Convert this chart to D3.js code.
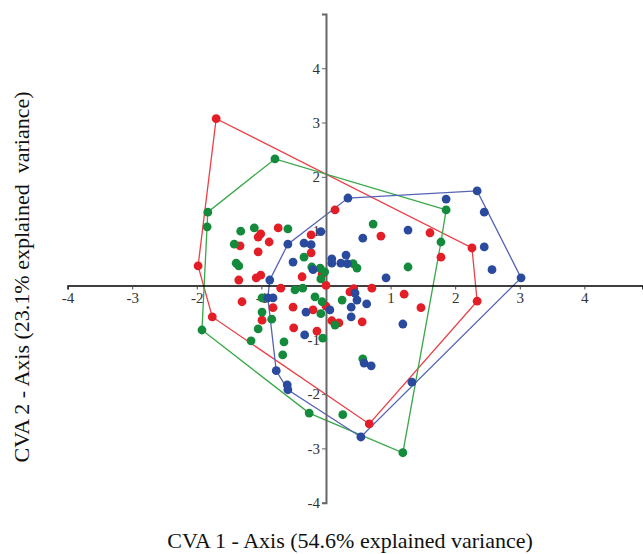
<!DOCTYPE html>
<html>
<head>
<meta charset="utf-8">
<script src="https://cdn.jsdelivr.net/npm/d3@7"></script>
<style>
  body { margin: 0; background: #fff; }
  svg { display: block; }
</style>
</head>
<body>
<svg width="643" height="554"></svg>
<script>
// CVA scores, [axis1, axis2]
var redPts = [
  [-1.70, 3.07], [-1.98, 0.36], [-1.76, -0.58], [0.67, -2.55], [2.34, -0.29], [2.26, 0.69],
  [0.14, 1.39], [-0.74, 1.06], [-1.05, 0.89], [-1.01, 0.95], [-0.23, 0.93], [-1.33, 0.73],
  [-0.88, 0.80], [-1.05, 0.62], [-0.23, 0.60], [-1.35, 0.10], [-1.08, 0.14], [-1.01, 0.19],
  [-0.37, 0.16], [-0.06, 0.21], [-0.70, -0.05], [0.00, 0.00], [-1.30, -0.30], [-0.82, -0.41],
  [-0.51, -0.40], [0.00, -0.38], [-0.20, -0.45], [-0.99, -0.64], [-0.50, -0.78], [-0.14, -0.84],
  [0.09, -0.65], [0.20, -0.69], [0.37, -0.12], [0.43, -0.06], [0.71, -0.05], [0.56, -0.67],
  [0.85, 0.91], [1.61, 0.97], [1.78, 0.52], [1.21, -0.16], [1.47, -0.41]
];
var greenPts = [
  [-0.79, 2.33], [1.86, 1.39], [1.78, 0.80], [1.19, -3.08], [-0.26, -2.35], [0.26, -2.38],
  [-1.92, -0.82], [-1.83, 1.35], [-1.84, 1.08], [-1.32, 1.00], [-1.11, 1.06], [-0.59, 1.04],
  [-1.42, 0.76], [-1.39, 0.41], [-1.35, 0.36], [-0.34, 0.52], [-0.22, 0.34], [-0.09, 0.32],
  [-0.02, 0.25], [-0.08, 0.12], [-0.36, -0.05], [-0.48, -0.08], [-0.99, -0.23], [-0.99, -0.49],
  [-0.84, -0.62], [-1.05, -0.80], [-1.16, -1.02], [-0.65, -1.04], [-0.67, -1.28], [-0.17, -0.21],
  [-0.06, -0.30], [-0.08, -0.52], [0.14, -0.73], [-0.05, -0.97], [0.25, -0.27], [0.42, 0.40],
  [0.48, 0.32], [0.73, 1.13], [1.27, 0.34], [0.57, -1.35]
];
var bluePts = [
  [0.34, 1.61], [2.34, 1.74], [1.86, 1.59], [2.45, 1.35], [2.45, 0.71], [2.57, 0.29],
  [3.02, 0.14], [1.33, -1.78], [0.54, -2.79], [-0.59, -1.92], [-0.60, -1.83], [-0.77, -1.57],
  [-0.87, 0.10], [-0.59, 0.76], [-0.34, 0.78], [-0.23, 0.75], [-0.08, 0.99], [-0.51, 0.43],
  [-0.20, 0.29], [0.09, 0.49], [0.09, 0.41], [0.23, 0.41], [0.31, 0.56], [0.33, 0.40],
  [0.57, 0.87], [1.27, 1.02], [0.93, 0.14], [0.45, -0.14], [0.48, -0.27], [0.63, -0.34],
  [0.39, -0.40], [0.39, -0.58], [0.06, -0.45], [-0.31, -0.49], [-0.33, -0.91], [-0.90, -0.23],
  [-0.82, -0.23], [1.19, -0.71], [0.59, -1.43], [0.70, -1.48]
];
var tickVals = [-4, -3, -2, -1, 1, 2, 3, 4];
var xTitle = "CVA 1 - Axis (54.6% explained variance)";
var yTitle = "CVA 2 - Axis (23.1% explained\u00a0 variance)";

var groups = [
  { pts: redPts, fill: "#e31e26", line: "#ea4048" },
  { pts: greenPts, fill: "#138a3c", line: "#3aa84a" },
  { pts: bluePts, fill: "#2a4a9e", line: "#5563b4" }
];

var serif = "Liberation Serif, Times New Roman, serif";
var svg = d3.select("svg");
var x = d3.scaleLinear().domain([-4, 4.9]).range([67.6, 642.5]);
var y = d3.scaleLinear().domain([-4, 5]).range([502.7, 13.9]);

// hulls
var hullG = svg.append("g").attr("fill", "none").attr("stroke-width", 1.3);
groups.forEach(function(g) {
  var hull = d3.polygonHull(g.pts.map(function(p) { return [x(p[0]), y(p[1])]; }));
  hullG.append("path")
    .attr("stroke", g.line)
    .attr("d", "M" + hull.join("L") + "Z");
});

// axes
var xAxis = svg.append("g")
    .attr("transform", "translate(0," + y(0) + ")")
    .call(d3.axisBottom(x).tickValues(tickVals).tickSize(4).tickPadding(3).tickFormat(String));
xAxis.select(".domain").attr("stroke", "#000").attr("stroke-width", 1.5);
xAxis.selectAll(".tick line").attr("stroke", "#444");

var yAxis = svg.append("g")
    .attr("transform", "translate(" + x(0) + ",0)")
    .call(d3.axisLeft(y).tickValues(tickVals).tickSize(4).tickPadding(2).tickFormat(String));
yAxis.select(".domain").attr("stroke", "#666").attr("stroke-width", 2);
yAxis.selectAll(".tick line").attr("stroke", "#666");

svg.selectAll(".tick text")
    .attr("font-family", serif)
    .attr("font-size", 15)
    .attr("fill", "#333");

// points
groups.forEach(function(g) {
  svg.append("g")
    .selectAll("circle")
    .data(g.pts)
    .join("circle")
      .attr("cx", function(d) { return x(d[0]); })
      .attr("cy", function(d) { return y(d[1]); })
      .attr("r", 4.4)
      .attr("fill", g.fill);
});

// titles
svg.append("text")
    .attr("x", 350)
    .attr("y", 548)
    .attr("text-anchor", "middle")
    .attr("font-family", serif)
    .attr("font-size", 22)
    .attr("fill", "#111")
    .text(xTitle);

svg.append("text")
    .attr("transform", "translate(29,277) rotate(-90)")
    .attr("text-anchor", "middle")
    .attr("font-family", serif)
    .attr("font-size", 22)
    .attr("fill", "#111")
    .text(yTitle);
</script>
</body>
</html>
